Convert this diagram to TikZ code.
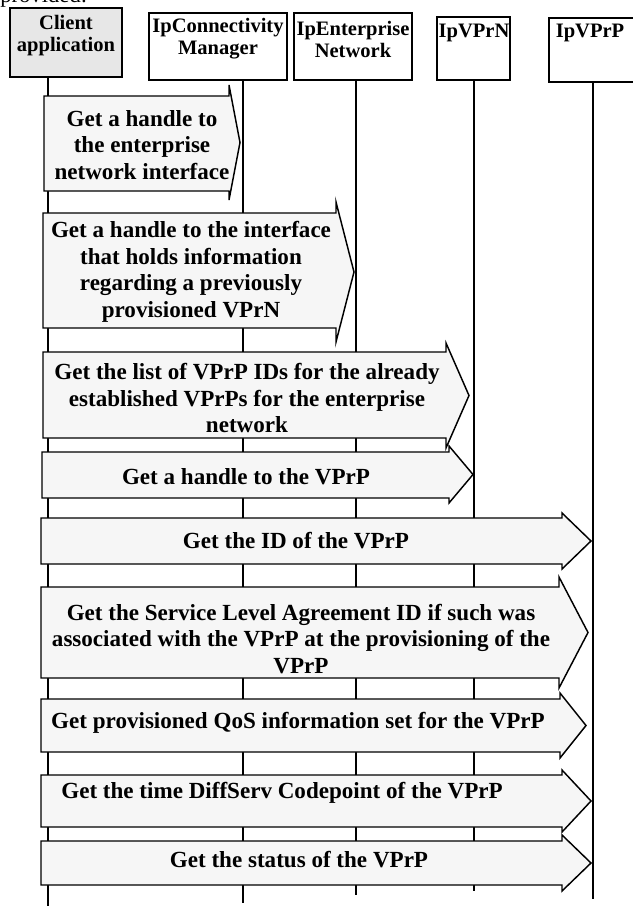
\documentclass[tikz,border=0pt]{standalone}
\usepackage{fontspec}
\setmainfont{Liberation Serif}
\definecolor{clientfill}{RGB}{231,231,231}
\definecolor{msgfill}{RGB}{246,246,246}
\tikzset{
  life/.style={line width=1.1pt},
  objbox/.style={draw, line width=1.1pt, fill=white},
  objtext/.style={align=center, inner sep=0pt, font=\bfseries\fontsize{15.4}{16.5}\selectfont},
  msg/.style={draw, line width=1.1pt, fill=msgfill},
  msgtext/.style={align=center, inner sep=0pt, font=\bfseries\fontsize{17.3}{19.9}\selectfont}
}
\begin{document}
\begin{tikzpicture}[x=0.75pt, y=-0.75pt, line join=miter, line cap=rect]
	\useasboundingbox (0,0) rectangle (632,906);
	
	% cut-off text above the chart
	\node[anchor=base west, inner sep=0pt, font=\fontsize{17}{20}\selectfont] (above) at (0,3) {provided:};
	
	% Lifelines
	\draw[life] (48,77) -- (48,906);
	\draw[life] (243,80) -- (243,902);
	\draw[life] (356,80) -- (356,894);
	\draw[life] (474,80) -- (474,890);
	\draw[life] (593,82) -- (593,898);
	
	% Objects
	\draw[objbox, fill=clientfill] (10,8) rectangle (122,77);
	\node[objtext] (client) at (66,36) {Client\\application};
	\draw[objbox] (149,13) rectangle (287,80);
	\node[objtext] (conn) at (218,39) {IpConnectivity\\Manager};
	\draw[objbox] (294,13) rectangle (412,80);
	\node[objtext] (ent) at (353,39) {IpEnterprise\\Network};
	\draw[objbox] (437,17) rectangle (510,80);
	\node[objtext] (vprn) at (474,33) {IpVPrN};
	\draw[objbox] (549,18) rectangle (640,82);
	\node[objtext] (vprp) at (590,33) {IpVPrP};
	
	% Message 1
	\draw[msg] (44,96) -- (229,96) -- (229,85) -- (240,142.5) -- (229,200) -- (229,191) -- (44,191) -- cycle;
	\node[msgtext] (m1) at (142,145) {Get a handle to\\the enterprise\\network interface};
	% Message 2
	\draw[msg] (43,213) -- (336,213) -- (336,202) -- (354,272) -- (336,342) -- (336,328) -- (43,328) -- cycle;
	\node[msgtext] (m2) at (191,272) {Get a handle to the interface\\that holds information\\regarding a previously\\provisioned VPrN};
	% Message 3
	\draw[msg] (43,352) -- (446,352) -- (446,343) -- (469,395.5) -- (446,448) -- (446,438) -- (43,438) -- cycle;
	\node[msgtext] (m3) at (247,398) {Get the list of VPrP IDs for the already\\established VPrPs for the enterprise\\network};
	% Message 4
	\draw[msg] (42,452) -- (449,452) -- (449,446) -- (473,474.5) -- (449,503) -- (449,498) -- (42,498) -- cycle;
	\node[msgtext] (m4) at (246,477) {Get a handle to the VPrP};
	% Message 5
	\draw[msg] (41,518) -- (562,518) -- (562,513) -- (591,541) -- (562,569) -- (562,564) -- (41,564) -- cycle;
	\node[msgtext] (m5) at (296,541) {Get the ID of the VPrP};
	% Message 6
	\draw[msg] (41,587) -- (559,587) -- (559,577) -- (588,632.5) -- (559,688) -- (559,678) -- (41,678) -- cycle;
	\node[msgtext] (m6) at (301,639) {Get the Service Level Agreement ID if such was\\associated with the VPrP at the provisioning of the\\VPrP};
	% Message 7
	\draw[msg] (41,699) -- (560,699) -- (560,693) -- (586,725.5) -- (560,758) -- (560,752) -- (41,752) -- cycle;
	\node[msgtext] (m7) at (298,723) {Get provisioned QoS information set for the VPrP};
	% Message 8
	\draw[msg] (41,775) -- (562,775) -- (562,770) -- (591,801) -- (562,832) -- (562,827) -- (41,827) -- cycle;
	\node[msgtext] (m8) at (282,793) {Get the time DiffServ Codepoint of the VPrP};
	% Message 9
	\draw[msg] (41,841) -- (562,841) -- (562,835) -- (591,863) -- (562,891) -- (562,885) -- (41,885) -- cycle;
	\node[msgtext] (m9) at (299,860) {Get the status of the VPrP};
\end{tikzpicture}
\end{document}
